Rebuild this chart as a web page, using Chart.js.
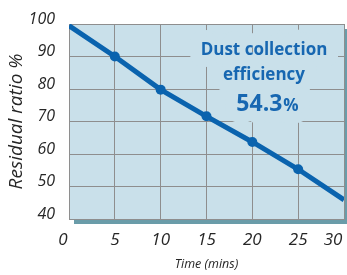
<!DOCTYPE html>
<html>
<head>
<meta charset="utf-8">
<script src="https://cdn.jsdelivr.net/npm/chart.js@4/dist/chart.umd.min.js"></script>
<style>
  html, body { margin: 0; padding: 0; background: #ffffff; }
  canvas { display: block; }
</style>
</head>
<body>
<canvas id="c" width="347" height="275"></canvas>
<script>
// ---- data ----
const timeMins = [0, 5, 10, 15, 20, 25, 30];
const residualRatio = [99.5, 90, 79.8, 71.6, 63.7, 55.3, 45.9];
const markerShown = [false, true, true, true, true, true, false];
const xTickValues = [0, 5, 10, 15, 20, 25, 30];
const yTickValues = [40, 50, 60, 70, 80, 90, 100];
const calloutLines = ["Dust collection", "efficiency"];
const efficiencyValue = "54.3";
const efficiencyUnit = "%";
const yTitle = "Residual ratio %";
const xTitle = "Time (mins)";

// ---- styles ----
const PLOT_BG = '#c9e0ea';
const SHADOW = '#6a9ca9';
const GRID = '#8e8e8e';
const LINE = '#0a63ae';
const CALLOUT = '#1767b1';
const LABEL = '#262626';
const FONT = "'Open Sans', 'Noto Sans', sans-serif";

const points = timeMins.map((t, i) => ({ x: t, y: residualRatio[i] }));

const plotBgPlugin = {
  id: 'plotBg',
  beforeDraw(chart) {
    const { ctx, chartArea: a } = chart;
    ctx.save();
    ctx.fillStyle = SHADOW;
    ctx.fillRect(a.left + 5, a.top + 5, a.right - a.left, a.bottom - a.top);
    ctx.fillStyle = PLOT_BG;
    ctx.fillRect(a.left, a.top, a.right - a.left, a.bottom - a.top);
    ctx.restore();
  }
};

const calloutPlugin = {
  id: 'callout',
  beforeDatasetsDraw(chart) {
    const { ctx, chartArea: a } = chart;
    const cx = a.right - 80;
    ctx.save();
    ctx.lineJoin = 'round';
    ctx.lineWidth = 24;
    ctx.strokeStyle = PLOT_BG;
    ctx.fillStyle = CALLOUT;
    ctx.textBaseline = 'alphabetic';
    ctx.textAlign = 'center';
    ctx.font = "bold 17px " + FONT;
    const base1 = a.top + 31, base2 = a.top + 56, base3 = a.top + 87;
    ctx.strokeText(calloutLines[0], cx, base1);
    ctx.strokeText(calloutLines[1], cx, base2);
    ctx.textAlign = 'left';
    ctx.font = "bold 23px " + FONT;
    const w1 = ctx.measureText(efficiencyValue).width;
    ctx.font = "bold 17px " + FONT;
    const w2 = ctx.measureText(efficiencyUnit).width;
    const x0 = cx + 3 - (w1 + w2) / 2;
    ctx.font = "bold 23px " + FONT;
    ctx.strokeText(efficiencyValue, x0, base3);
    ctx.font = "bold 17px " + FONT;
    ctx.strokeText(efficiencyUnit, x0 + w1 + 1, base3);
    ctx.textAlign = 'center';
    ctx.font = "bold 17px " + FONT;
    ctx.fillText(calloutLines[0], cx, base1);
    ctx.fillText(calloutLines[1], cx, base2);
    ctx.textAlign = 'left';
    ctx.font = "bold 23px " + FONT;
    ctx.fillText(efficiencyValue, x0, base3);
    ctx.font = "bold 17px " + FONT;
    ctx.fillText(efficiencyUnit, x0 + w1 + 1, base3);
    ctx.restore();
  }
};

const xLabelPlugin = {
  id: 'xLabels',
  afterDraw(chart) {
    const { ctx, chartArea: a } = chart;
    const xs = chart.scales.x;
    ctx.save();
    ctx.font = "italic 17px " + FONT;
    ctx.fillStyle = LABEL;
    ctx.textAlign = 'center';
    ctx.textBaseline = 'middle';
    xTickValues.forEach((v, i) => {
      let dx = 0;
      if (i === 0) dx = -6;
      if (i === xTickValues.length - 1) dx = -11;
      ctx.fillText(String(v), xs.getPixelForValue(v) + dx, a.bottom + 21);
    });
    ctx.restore();
  }
};

new Chart(document.getElementById('c'), {
  type: 'line',
  data: {
    datasets: [{
      data: points,
      borderColor: LINE,
      borderWidth: 5,
      backgroundColor: LINE,
      pointRadius: markerShown.map(m => m ? 5 : 0),
      pointBorderWidth: 0,
      pointBackgroundColor: LINE,
      tension: 0,
      fill: false
    }]
  },
  options: {
    responsive: false,
    animation: false,
    events: [],
    layout: { padding: { top: 24, right: 3, left: 0, bottom: 0 } },
    plugins: { legend: { display: false }, tooltip: { enabled: false } },
    scales: {
      x: {
        type: 'linear',
        min: 0, max: 30,
        afterBuildTicks(s) { s.ticks = xTickValues.map(v => ({ value: v })); },
        afterFit(s) { s.height = 56; s.paddingLeft = 0; s.paddingRight = 0; },
        ticks: { display: false },
        grid: { color: GRID, lineWidth: 1, drawTicks: false },
        border: { display: true, color: GRID, width: 1 },
        title: {
          display: true, text: xTitle, color: LABEL,
          font: { family: FONT, size: 12.5, style: 'italic' },
          padding: { top: 3, bottom: 3 }
        }
      },
      y: {
        type: 'linear',
        min: 40, max: 100,
        afterBuildTicks(s) { s.ticks = yTickValues.map(v => ({ value: v })); },
        afterFit(s) { s.width = 69; },
        ticks: {
          color: LABEL, padding: 14, labelOffset: -5,
          font: { family: FONT, size: 16, style: 'italic' }
        },
        grid: { color: GRID, lineWidth: 1, drawTicks: false },
        border: { display: true, color: GRID, width: 1 },
        title: {
          display: true, text: yTitle, color: LABEL,
          font: { family: FONT, size: 19, style: 'italic' },
          padding: { top: 5, bottom: 5 }
        }
      }
    }
  },
  plugins: [plotBgPlugin, calloutPlugin, xLabelPlugin]
});
</script>
</body>
</html>
